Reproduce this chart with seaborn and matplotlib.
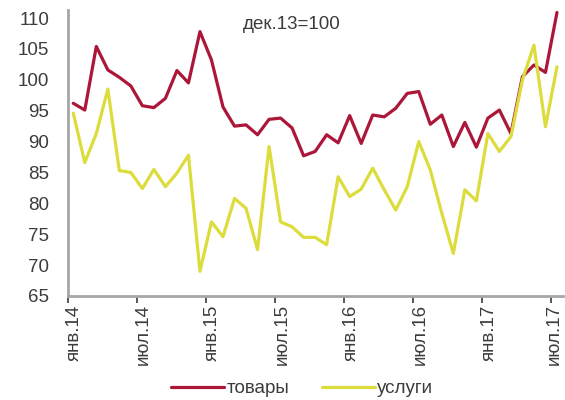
import numpy as np
import pandas as pd
import matplotlib
matplotlib.use("Agg")
import matplotlib.pyplot as plt
import matplotlib.transforms as mtransforms
import seaborn as sns

# Monthly indices, Jan 2014 - Jul 2017 (Dec 2013 = 100)
goods = [96.2, 95.1, 105.4, 101.6, 100.4, 99.0, 95.8, 95.5, 97.0, 101.5, 99.5, 107.8,
         103.2, 95.6, 92.5, 92.7, 91.1, 93.6, 93.8, 92.2, 87.7, 88.4, 91.1, 89.8,
         94.2, 89.7, 94.3, 94.0, 95.4, 97.8, 98.1, 92.8, 94.3, 89.2, 93.1, 89.1,
         93.8, 95.1, 91.3, 100.5, 102.4, 101.2, 110.9]
services = [94.6, 86.6, 91.3, 98.5, 85.3, 85.0, 82.4, 85.5, 82.7, 84.9, 87.8, 69.0,
            77.0, 74.6, 80.8, 79.2, 72.5, 89.2, 77.0, 76.2, 74.5, 74.5, 73.3, 84.3,
            81.1, 82.3, 85.7, 82.2, 78.9, 82.7, 90.0, 85.4, 78.4, 71.9, 82.2, 80.4,
            91.3, 88.4, 90.8, 100.0, 105.6, 92.4, 102.1]
tick_labels = ["янв.14", "июл.14", "янв.15", "июл.15", "янв.16", "июл.16", "янв.17", "июл.17"]
series_names = ["товары", "услуги"]
note = "дек.13=100"

months = np.arange(len(goods))
df = pd.DataFrame({"month": np.concatenate([months, months]),
                   "value": goods + services,
                   "series": [series_names[0]] * len(goods) + [series_names[1]] * len(services)})

sns.set_theme(style="white")
plt.rcParams["font.family"] = ["Liberation Sans", "DejaVu Sans"]

fs = 13.5
text_col = "#3c3c3c"
axis_col = "#a6a6a6"
palette = {series_names[0]: "#ac1638", series_names[1]: "#dcdc3c"}

fig = plt.figure(figsize=(5.65, 4.0), dpi=100)
ax = fig.add_axes([0.1195, 0.26, 0.8765, 0.715])

sns.lineplot(data=df, x="month", y="value", hue="series", palette=palette,
             linewidth=2.3, ax=ax, legend=True)

ax.set_xlim(-0.5, 42.5)
ax.set_ylim(65, 111.3)
ax.set_yticks(np.arange(65, 111, 5))
ax.set_xticks(np.arange(0, 43, 6) - 0.5)
ax.set_xticklabels(tick_labels, rotation=90, va="top", ha="center")
ax.set_xlabel("")
ax.set_ylabel("")

for s in ["top", "right"]:
    ax.spines[s].set_visible(False)
for s in ["left", "bottom"]:
    ax.spines[s].set_color(axis_col)
    ax.spines[s].set_linewidth(2)

ax.tick_params(axis="y", length=0, labelsize=fs, labelcolor=text_col, pad=13)
ax.tick_params(axis="x", length=5, width=1.2, color=text_col, direction="out",
               bottom=True, labelsize=fs, labelcolor=text_col, pad=1)

# rotated labels sit a little to the right of their tick marks
xlabels = ax.get_xticklabels()
for k, lbl in enumerate(xlabels):
    dx = 7 if k < len(xlabels) - 1 else 3
    shift = mtransforms.ScaledTranslation(dx / 100, 0, fig.dpi_scale_trans)
    lbl.set_transform(lbl.get_transform() + shift)

ax.text(19, 109.0, note, ha="center", va="center", fontsize=fs, color=text_col)

handles, labels = ax.get_legend_handles_labels()
ax.legend_.remove()
fig.legend(handles, labels, loc="center", bbox_to_anchor=(0.535, 0.028), ncol=2,
           frameon=False, fontsize=fs, handlelength=2.8, columnspacing=1.75,
           handletextpad=0.15, labelcolor=text_col)

fig.savefig("out.png", dpi=100)
